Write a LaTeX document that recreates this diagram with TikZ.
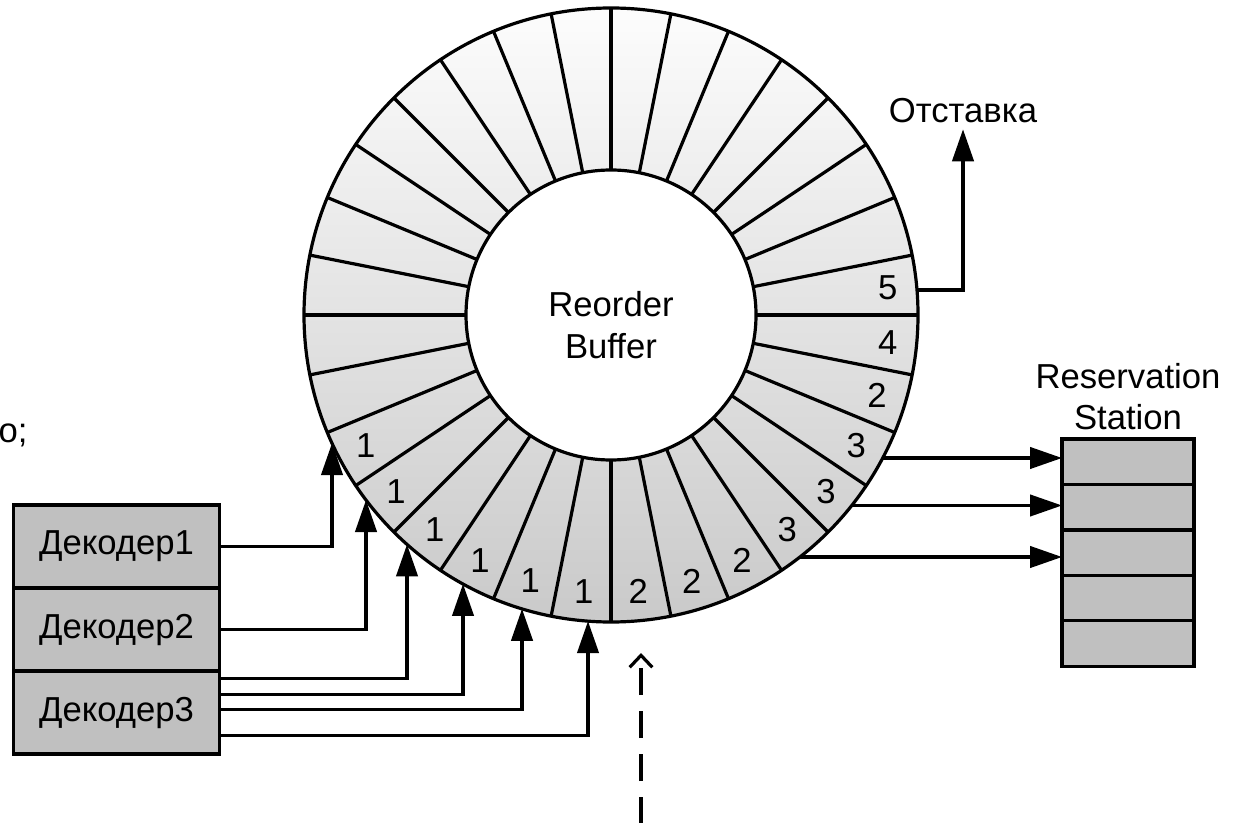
\documentclass[tikz,border=0pt]{standalone}
\usepackage{fontspec}
\setmainfont{Liberation Sans}
\usepackage{xcolor}
\usepackage{tikz}
\usetikzlibrary{positioning,arrows.meta,calc}
\definecolor{cellgray}{HTML}{C0C0C0}

\begin{document}
\begin{tikzpicture}[
  x=0.75pt, y=0.75pt,
  font=\fontsize{26}{31}\selectfont,
  line width=2.4pt,
  decoder/.style={
    rectangle, draw=black, fill=cellgray, outer sep=0pt,
    minimum width=155pt, minimum height=62.25pt, align=center
  },
  slot/.style={
    rectangle, draw=black, fill=cellgray, outer sep=0pt,
    minimum width=99pt, minimum height=34.1pt
  },
  arr/.style={-{Triangle[length=24pt,width=16pt]}},
  ptr/.style={-{Straight Barb[length=9pt,width=17pt]}, dash pattern=on 20.25pt off 12pt},
  tag/.style={inner sep=0pt}
]
\useasboundingbox (0,0) rectangle (1237,822);

\coordinate (C) at (611,507);

% reorder buffer ring, 32 entries
\shade[top color=black!1, bottom color=black!21] (C) circle (307);
\draw[fill=white] (C) circle (145);
\begin{scope}[shift={(C)}]
  \foreach \i in {0,...,31}
    \draw ({\i*11.25}:145) -- ({\i*11.25}:307);
  \foreach \a/\t in {5.625/5, -5.625/4, -16.875/2, -28.125/3, -39.375/3, -50.625/3,
                     -61.875/2, -73.125/2, -84.375/2, -95.625/1, -106.875/1, -118.125/1,
                     -129.375/1, -140.625/1, -151.875/1}
    \node[tag] at (\a:278) {\t};
\end{scope}
\draw (C) circle (307);
\node[align=center] (rob) at ($(C)+(0,-10)$) {Reorder\\Buffer};

\node[anchor=west, inner sep=0pt] (cut) at (-3,387) {о;};

% decoders
\node[decoder] (dec1) at (116.5,275.5) {Декодер1};
\node[decoder, below=0pt of dec1] (dec2) {Декодер2};
\node[decoder, below=0pt of dec2] (dec3) {Декодер3};

\foreach \n/\x in {1/332, 2/366, 3/407, 4/463, 5/522, 6/588}
  \coordinate (in\n) at ($(C)+({-acos((\x-611)/307)}:307)$);

\draw[arr] (dec1.east) -| (in1);
\draw[arr] (dec2.east) -| (in2);
\draw[arr] ($(dec3.east)+(0,34)$) -| (in3);
\draw[arr] ($(dec3.east)+(0,18)$) -| (in4);
\draw[arr] ($(dec3.east)+(0,3)$) -| (in5);
\draw[arr] ($(dec3.east)+(0,-23)$) -| (in6);

% reservation station
\node[slot] (rs1) at (1128,360.25) {};
\node[slot, below=0pt of rs1] (rs2) {};
\node[slot, below=0pt of rs2] (rs3) {};
\node[slot, below=0pt of rs3] (rs4) {};
\node[slot, below=0pt of rs4] (rs5) {};
\node[align=center, above=2pt of rs1] (rslabel) {Reservation\\Station};

\foreach \n/\y in {1/364, 2/316.5, 3/265}
  \coordinate (out\n) at ($(C)+({asin((\y-507)/307)}:307)$);
\foreach \n in {1,2,3}
  \draw[arr] (out\n) -- (out\n -| rs\n.west);

% retirement
\node (retire) at (963,711) {Отставка};
\coordinate (commit) at ($(C)+({asin(25/307)}:307)$);
\draw[arr] (commit) -| (retire.south);

% head pointer
\coordinate (ptrfoot) at (641,-2);
\coordinate (ptrhead) at (641,169);
\draw[ptr] (ptrfoot) -- (ptrhead);

\end{tikzpicture}
\end{document}
